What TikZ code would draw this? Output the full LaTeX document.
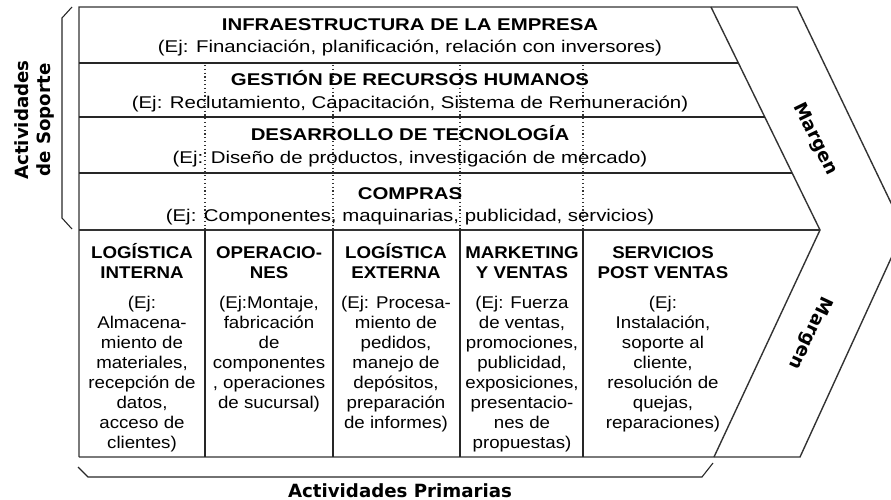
\documentclass[tikz,border=0pt]{standalone}
\usepackage{fontspec}
\setmainfont{Liberation Sans}
\newfontfamily\verd{DejaVu Sans}
\begin{document}
\begin{tikzpicture}[x=1pt,y=-1pt,
  frame/.style={line width=1.4pt,draw=black!80},
  thin/.style={line width=1.1pt,draw=black!85},
  dotline/.style={line width=1.2pt,draw=black!80,dash pattern=on 1.2pt off 2.6pt},
  rowtitle/.style={anchor=base,inner sep=0pt,xscale=1.2,font=\bfseries\fontsize{17}{20}\selectfont},
  rowsub/.style={anchor=base,inner sep=0pt,xscale=1.2,font=\fontsize{17}{20}\selectfont},
  coltitle/.style={anchor=base,inner sep=0pt,xscale=1.1,align=center,font=\bfseries\fontsize{17}{20}\selectfont},
  colbody/.style={anchor=base,inner sep=0pt,xscale=1.1,align=center,font=\fontsize{17}{20}\selectfont},
  biglabel/.style={inner sep=0pt,align=center,font=\verd\bfseries\fontsize{18.2}{22}\selectfont}]
\useasboundingbox (0,0) rectangle (891,500);
% key points
\coordinate (TL) at (79,7);
\coordinate (BL) at (79,457);
\coordinate (ia) at (711,7);
\coordinate (ib) at (820,230);
\coordinate (ic) at (714,457);
\coordinate (oa) at (797,7);
\coordinate (ob) at (904,230);
\coordinate (oc) at (800,457);
\begin{scope}
\clip (0,0) rectangle (891,500);
% outer frame
\draw[frame] (BL) -- (TL) -- (oa) -- (ob) -- (oc) -- (BL);
\draw[frame] (ia) -- (ib) -- (ic);
\end{scope}
% row separators
\draw[thin] (79,63) -- (738.4,63);
\draw[thin] (79,117) -- (764.8,117);
\draw[thin] (79,173) -- (792.1,173);
\draw[frame] (79,230) -- (ib);
% column dividers and dotted extensions
\foreach \x in {205,333,460,583}{
  \draw[thin] (\x,230) -- (\x,457);
  \draw[dotline] (\x,65) -- (\x,229);
}
% brackets
\draw[thin] (72,7) -- (62,18) -- (62,218) -- (72,229);
\draw[thin] (78,467) -- (88,477) -- (702,477) -- (713,463);
% support rows
\node[rowtitle] (r1t) at (410,31) {INFRAESTRUCTURA DE LA EMPRESA};
\node[rowsub]   (r1s) at (410,53) {(Ej: Financiación, planificación, relación con inversores)};
\node[rowtitle] (r2t) at (410,86) {GESTIÓN DE RECURSOS HUMANOS};
\node[rowsub]   (r2s) at (410,109) {(Ej: Reclutamiento, Capacitación, Sistema de Remuneración)};
\node[rowtitle] (r3t) at (410,141) {DESARROLLO DE TECNOLOGÍA};
\node[rowsub]   (r3s) at (410,163) {(Ej: Diseño de productos, investigación de mercado)};
\node[rowtitle] (r4t) at (410,199) {COMPRAS};
\node[rowsub]   (r4s) at (410,221) {(Ej: Componentes, maquinarias, publicidad, servicios)};
% primary columns (base anchor = baseline of last line)
\node[coltitle] (t1) at (142,278) {LOGÍSTICA\\INTERNA};
\node[colbody]  (b1) at (142,448) {(Ej:\\Almacena-\\miento de\\materiales,\\recepción de\\datos,\\acceso de\\clientes)};
\node[coltitle] (t2) at (269,278) {OPERACIO-\\NES};
\node[colbody]  (b2) at (269,408) {(Ej:Montaje,\\fabricación\\de\\componentes\\, operaciones\\de sucursal)};
\node[coltitle] (t3) at (396,278) {LOGÍSTICA\\EXTERNA};
\node[colbody]  (b3) at (396,428) {(Ej: Procesa-\\miento de\\pedidos,\\manejo de\\depósitos,\\preparación\\de informes)};
\node[coltitle] (t4) at (522,278) {MARKETING\\Y VENTAS};
\node[colbody]  (b4) at (522,448) {(Ej: Fuerza\\de ventas,\\promociones,\\publicidad,\\exposiciones,\\presentacio-\\nes de\\propuestas)};
\node[coltitle] (t5) at (663,278) {SERVICIOS\\POST VENTAS};
\node[colbody]  (b5) at (663,428) {(Ej:\\Instalación,\\soporte al\\cliente,\\resolución de\\quejas,\\reparaciones)};
% labels
\node[biglabel,rotate=90] (sop) at (34,120) {Actividades\\de Soporte};
\node[biglabel,anchor=base] (pri) at (400,497) {Actividades Primarias};
\node[biglabel,rotate=-64] (m1) at (815,139) {Margen};
\node[biglabel,rotate=-115] (m2) at (810,333) {Margen};
\end{tikzpicture}
\end{document}
